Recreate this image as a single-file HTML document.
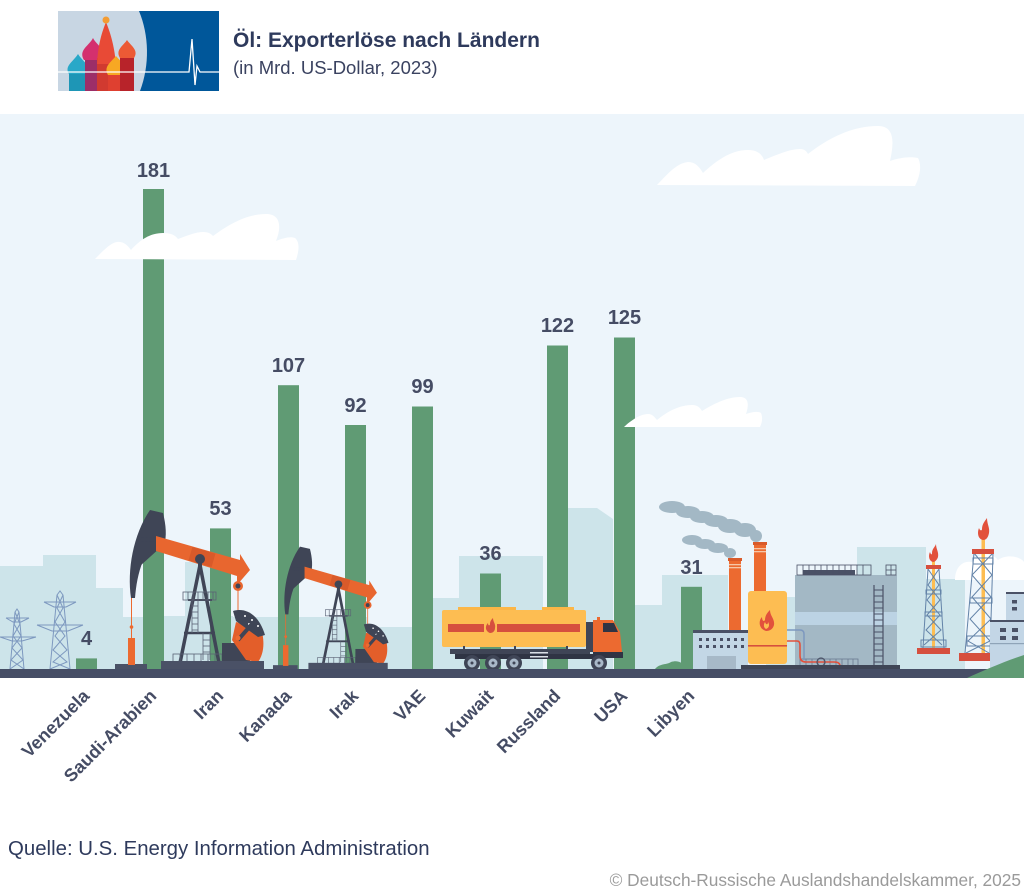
<!DOCTYPE html>
<html><head><meta charset="utf-8"><style>
html,body{margin:0;padding:0;background:#fff;}
svg{display:block;}
text{font-family:"Liberation Sans",Arial,sans-serif;}
</style></head><body>
<svg width="1024" height="893" viewBox="0 0 1024 893" xmlns="http://www.w3.org/2000/svg">
<rect width="1024" height="893" fill="#fff"/>
<!-- Logo -->
<rect x="58" y="11" width="161" height="80" fill="#c8d6e3"/>
<path d="M139,11 C149,35 150,65 140,91 L219,91 L219,11 Z" fill="#00579a"/>
<rect x="69" y="72" width="19" height="19" fill="#1e96b6"/>
<path d="M69,74 C64,66 73,62 78,54 C83,62 92,66 87,74 Z" fill="#29a8c8"/>
<rect x="85" y="58" width="18" height="33" fill="#9c2e68"/>
<path d="M84,60 C78,50 89,46 93,38 C97,46 108,50 102,60 Z" fill="#d4306e"/>
<rect x="97" y="58" width="19" height="33" fill="#d13a30"/>
<path d="M97,64 C98,44 102,32 106,22 C110,32 114,44 116,64 Z" fill="#e84a36"/>
<circle cx="106" cy="20" r="3.5" fill="#f39c33"/>
<rect x="108" y="72" width="16" height="19" fill="#df4030"/>
<path d="M108,75 C103,67 111,62 116,56 C121,62 129,67 124,75 Z" fill="#f7a823"/>
<rect x="120" y="56" width="14" height="35" fill="#b8232a"/>
<path d="M120,58 C115,50 123,46 127,40 C131,46 139,50 134,58 Z" fill="#ec5a35"/>
<polyline points="58,72 186,72 189,72 192,39 195,85 197,66 200,72 219,72" fill="none" stroke="#fff" stroke-width="1.3"/>
<!-- Title -->
<text x="233" y="47" font-size="21" font-weight="bold" fill="#2e3a5c">Öl: Exporterlöse nach Ländern</text>
<text x="233" y="74" font-size="18.5" fill="#3a4260">(in Mrd. US-Dollar, 2023)</text>

<!-- Panel -->
<rect x="0" y="114" width="1024" height="556" fill="#edf5fb"/>
<!-- background buildings -->
<g fill="#cde4ea">
<rect x="0" y="566" width="43" height="104"/>
<rect x="43" y="555" width="53" height="115"/>
<rect x="96" y="588" width="27" height="82"/>
<rect x="123" y="617" width="20" height="53"/>
<rect x="163" y="616" width="70" height="54"/>
<rect x="185" y="562" width="26" height="108"/>
<rect x="231" y="617" width="34" height="53"/>
<rect x="265" y="617" width="80" height="53"/>
<rect x="345" y="617" width="22" height="53"/>
<rect x="367" y="627" width="45" height="43"/>
<rect x="433" y="598" width="26" height="72"/>
<rect x="459" y="556" width="84" height="114"/>
<polygon points="568,508 597,508 613,519 613,670 568,670"/>
<rect x="635" y="605" width="27" height="65"/>
<rect x="662" y="575" width="66" height="95"/>
<rect x="766" y="597" width="34" height="73"/>
<rect x="857" y="547" width="69" height="123"/>
<rect x="926" y="579" width="39" height="91"/>
</g>
<path d="M955,580 C955,568 962,560 972,562 C978,552 992,552 998,560 C1006,554 1020,556 1024,562 L1024,580 Z" fill="#fff"/>

<!-- Bars -->
<g fill="#609b74">
<rect x="76" y="658.4" width="21" height="10.6"/>
<rect x="143" y="189" width="21" height="480"/>
<rect x="210" y="528.4" width="21" height="140.6"/>
<rect x="278" y="385.2" width="21" height="283.8"/>
<rect x="345" y="425" width="21" height="244"/>
<rect x="412" y="406.5" width="21" height="262.5"/>
<rect x="480" y="573.5" width="21" height="95.5"/>
<rect x="547" y="345.5" width="21" height="323.5"/>
<rect x="614" y="337.5" width="21" height="331.5"/>
<rect x="681" y="586.8" width="21" height="82.2"/>
</g>
<!-- Value labels -->
<g font-size="20" font-weight="bold" fill="#454c64" text-anchor="middle">
<text x="86.5" y="645">4</text>
<text x="153.5" y="177">181</text>
<text x="220.5" y="515">53</text>
<text x="288.5" y="372">107</text>
<text x="355.5" y="412">92</text>
<text x="422.5" y="393">99</text>
<text x="490.5" y="560">36</text>
<text x="557.5" y="332">122</text>
<text x="624.5" y="324">125</text>
<text x="691.5" y="574">31</text>
</g>

<!-- Clouds -->
<g fill="#fff">
<path d="M95,259 C102,252 110,243 117,242 C124,241 128,246 131,250 C140,240 150,233 163,233 C171,233 175,235 178,239 C186,236 196,232 203,232 C209,232 211,234 213,236 C228,225 246,214 266,214 C280,214 282,226 276,241 C283,238 291,236 295,238 C300,242 299,251 296,260 Z"/>
<path d="M657,185 C665,177 676,163 688,162 C696,162 700,168 703,173 C715,162 730,150 748,150 C757,150 762,154 764,160 C776,155 790,149 800,149 C805,149 807,152 808,154 C826,140 850,126 878,126 C895,126 894,143 890,161 C898,158 910,156 918,158 C922,165 920,176 915,186 Z"/>
<path d="M624,427 C630,421 640,414 648,414 C653,414 655,418 657,420 C668,411 680,405 692,405 C698,405 700,408 702,411 C712,405 726,397 740,397 C749,397 749,405 746,414 C752,412 758,411 761,413 C763,418 762,423 760,427 Z"/>
</g>

<!-- Smoke -->
<g fill="#a3b8c5">
<ellipse cx="672" cy="507" rx="13" ry="6"/>
<ellipse cx="688" cy="512" rx="12" ry="6"/>
<ellipse cx="702" cy="517" rx="12" ry="6"/>
<ellipse cx="716" cy="521" rx="12" ry="6"/>
<ellipse cx="730" cy="526" rx="12" ry="7"/>
<ellipse cx="745" cy="530" rx="11" ry="7"/>
<ellipse cx="756" cy="536" rx="6" ry="6"/>
<ellipse cx="692" cy="540" rx="10" ry="5"/>
<ellipse cx="705" cy="544" rx="10" ry="5"/>
<ellipse cx="718" cy="548" rx="10" ry="5"/>
<ellipse cx="730" cy="553" rx="6" ry="5"/>
</g>

<!-- Power towers -->
<g fill="none" stroke="#7d98bf" stroke-width="1">
<polyline points="10,669 15,612 17,609 19,612 24,669"/>
<line x1="6" y1="618" x2="29" y2="618"/><line x1="0" y1="637" x2="36" y2="637"/>
<polyline points="6,618 13,622 21,622 29,618"/><polyline points="0,637 12,641 22,641 36,637"/>
<polyline points="15,612 20,624 13,636 22,648 11,660 24,669"/>
<polyline points="19,612 14,624 21,636 12,648 23,660 10,669"/>
<polyline points="50,669 57,595 60,591 63,595 70,669"/>
<line x1="44" y1="602" x2="76" y2="602"/><line x1="37" y1="625" x2="83" y2="625"/>
<polyline points="44,602 54,607 66,607 76,602"/><polyline points="37,625 52,631 68,631 83,625"/>
<polyline points="57,595 63,608 55,622 65,636 53,650 67,662 50,669"/>
<polyline points="63,595 57,608 65,622 55,636 67,650 53,662 70,669"/>
</g>

<!-- Pump jack 1 -->
<g id="pj">
<rect x="115" y="664" width="32" height="5" fill="#4a5166"/>
<line x1="131.5" y1="598" x2="131.5" y2="638" stroke="#ec6a30" stroke-width="1"/>
<circle cx="131.5" cy="627" r="1.8" fill="#ec6a30"/>
<rect x="128" y="638" width="7" height="27" fill="#ec6a30"/>
<g stroke="#3f4556" fill="none">
<line x1="200" y1="565" x2="180" y2="663" stroke-width="3.5"/>
<line x1="200" y1="565" x2="219" y2="663" stroke-width="3.5"/>
<line x1="188" y1="600" x2="212" y2="600" stroke-width="2"/>
<line x1="184" y1="633" x2="215" y2="633" stroke-width="2.5"/>
<g stroke-width="0.8" stroke="#5a6275">
<rect x="183" y="592" width="33" height="8"/>
<line x1="188" y1="592" x2="188" y2="600"/><line x1="193" y1="592" x2="193" y2="600"/><line x1="198" y1="592" x2="198" y2="600"/><line x1="203" y1="592" x2="203" y2="600"/><line x1="208" y1="592" x2="208" y2="600"/><line x1="213" y1="592" x2="213" y2="600"/>
<line x1="192" y1="600" x2="192" y2="633"/><line x1="198" y1="600" x2="198" y2="633"/>
<line x1="192" y1="606" x2="198" y2="606"/><line x1="192" y1="612" x2="198" y2="612"/><line x1="192" y1="618" x2="198" y2="618"/><line x1="192" y1="624" x2="198" y2="624"/><line x1="192" y1="630" x2="198" y2="630"/>
<line x1="203" y1="633" x2="203" y2="660"/><line x1="210" y1="633" x2="210" y2="660"/>
<line x1="203" y1="640" x2="210" y2="640"/><line x1="203" y1="646" x2="210" y2="646"/><line x1="203" y1="652" x2="210" y2="652"/>
<rect x="173" y="654" width="67" height="8"/>
<line x1="180" y1="654" x2="180" y2="662"/><line x1="187" y1="654" x2="187" y2="662"/><line x1="194" y1="654" x2="194" y2="662"/><line x1="201" y1="654" x2="201" y2="662"/><line x1="208" y1="654" x2="208" y2="662"/><line x1="215" y1="654" x2="215" y2="662"/><line x1="222" y1="654" x2="222" y2="662"/><line x1="229" y1="654" x2="229" y2="662"/>
</g>
</g>
<path d="M150,510 L163,513 C166,525 167,536 164,546 L158,548 L143,561 C138,573 136,586 135,598 L131,598 C127,570 133,535 150,510 Z" fill="#3f4556"/>
<line x1="141" y1="539" x2="163" y2="540" stroke="#3f4556" stroke-width="4"/>
<line x1="137" y1="566" x2="158" y2="547" stroke="#3f4556" stroke-width="4"/>
<polygon points="156,536 240,560 240,554 250,570 237,585 237,576 156,551" fill="#e8662f"/>
<rect x="190" y="550" width="24" height="14" fill="#d95a2a" transform="rotate(16 202 557)"/>
<line x1="200" y1="559" x2="200" y2="566" stroke="#3f4556" stroke-width="4"/>
<circle cx="200" cy="559" r="5" fill="#3f4556"/>
<line x1="238" y1="590" x2="238" y2="637" stroke="#ec6a30" stroke-width="1"/>
<circle cx="238" cy="586" r="5" fill="#e8662f"/>
<circle cx="238" cy="586" r="2.5" fill="#3f4556"/>
<rect x="222" y="643" width="28" height="19" fill="#3f4556"/>
<path d="M236,622 L262,632 C265,645 263,655 258,662 L246,660 L232,640 Z" fill="#e35e2a"/>
<path d="M233,611 C246,607 259,615 265,635 L258,637 L236,621 Z" fill="#3f4556"/>
<circle cx="245" cy="616" r="1" fill="#fff"/><circle cx="252" cy="620" r="1" fill="#fff"/><circle cx="258" cy="626" r="1" fill="#fff"/><circle cx="249" cy="624" r="1" fill="#fff"/>
<line x1="238" y1="640" x2="252" y2="624" stroke="#3f4556" stroke-width="4"/>
<circle cx="238" cy="638" r="2.5" fill="#ec6a30"/>
<rect x="161" y="661" width="103" height="8" fill="#4a5166"/>
</g>
<use href="#pj" transform="translate(283,669) scale(0.77) translate(-128,-669)"/>

<!-- Truck -->
<g>
<rect x="458" y="607" width="58" height="4" fill="#fcb647"/>
<rect x="542" y="607" width="32" height="4" fill="#fcb647"/>
<rect x="442" y="610" width="144" height="37" rx="2" fill="#fdbd52"/>
<rect x="448" y="624" width="36" height="8" fill="#d64f3e"/>
<rect x="497" y="624" width="83" height="8" fill="#d64f3e"/>
<path d="M490,633 C485,631 485,626 488,623 C488,626 490,626 490,624 C490,621 492,619 493,618 C493,622 496,624 495,628 C495,631 493,633 490,633 Z" fill="#d64f3e"/>
<rect x="463" y="646" width="2" height="4" fill="#3f4556"/><rect x="514" y="646" width="2" height="4" fill="#3f4556"/><rect x="566" y="646" width="2" height="4" fill="#3f4556"/>
<rect x="450" y="649" width="140" height="5" fill="#3f4556"/>
<rect x="455" y="654" width="140" height="5" fill="#2f3444"/>
<rect x="530" y="652" width="18" height="1.5" fill="#d9dee6"/><rect x="530" y="656" width="18" height="1.5" fill="#d9dee6"/>
<rect x="586" y="622" width="8" height="30" fill="#3f4556"/>
<path d="M593,620 L613,620 L620,632 L622,652 L593,652 Z" fill="#ec6a30"/>
<rect x="597" y="617" width="3" height="4" fill="#ec6a30"/>
<path d="M603,623 L614,623 L618,632 L603,632 Z" fill="#2f3444"/>
<rect x="593" y="652" width="30" height="6" fill="#2f3444"/>
<g fill="#3f4556"><circle cx="472" cy="663" r="8"/><circle cx="493" cy="663" r="8"/><circle cx="514" cy="663" r="8"/><circle cx="599" cy="663" r="8"/></g>
<g fill="#a9b8c8"><circle cx="472" cy="663" r="4.5"/><circle cx="493" cy="663" r="4.5"/><circle cx="514" cy="663" r="4.5"/><circle cx="599" cy="663" r="4.5"/></g>
<g fill="#3f4556"><circle cx="472" cy="663" r="1.5"/><circle cx="493" cy="663" r="1.5"/><circle cx="514" cy="663" r="1.5"/><circle cx="599" cy="663" r="1.5"/></g>
</g>

<path d="M655,669 C660,663 667,665 671,662 C677,660 682,662 684,666 L684,669 Z" fill="#609b74"/>

<!-- Refinery -->
<g>
<rect x="754" y="543" width="12" height="50" fill="#ec6a30"/>
<rect x="753" y="542" width="14" height="3" fill="#d95a2a"/>
<rect x="754" y="548" width="12" height="1.3" fill="#f6c7a8"/><rect x="754" y="551" width="12" height="1.3" fill="#f6c7a8"/>
<rect x="729" y="559" width="12" height="73" fill="#ec6a30"/>
<rect x="728" y="558" width="14" height="3" fill="#d95a2a"/>
<rect x="729" y="564" width="12" height="1.3" fill="#f6c7a8"/><rect x="729" y="567" width="12" height="1.3" fill="#f6c7a8"/>
<rect x="693" y="632" width="55" height="37" fill="#c3d7e6"/>
<rect x="693" y="630" width="55" height="3" fill="#4a5166"/>
<g fill="#4a5166">
<rect x="699" y="638" width="3" height="3"/><rect x="706" y="638" width="3" height="3"/><rect x="713" y="638" width="3" height="3"/><rect x="720" y="638" width="3" height="3"/><rect x="727" y="638" width="3" height="3"/><rect x="734" y="638" width="3" height="3"/><rect x="741" y="638" width="3" height="3"/>
<rect x="699" y="645" width="3" height="3"/><rect x="706" y="645" width="3" height="3"/><rect x="713" y="645" width="3" height="3"/><rect x="720" y="645" width="3" height="3"/><rect x="727" y="645" width="3" height="3"/><rect x="734" y="645" width="3" height="3"/><rect x="741" y="645" width="3" height="3"/>
</g>
<rect x="707" y="656" width="29" height="13" fill="#a7b9c8"/>
<rect x="795" y="575" width="102" height="95" fill="#a3b8c5"/>
<rect x="795" y="612" width="102" height="13" fill="#bcd3e4"/>
<rect x="803" y="570" width="52" height="5" fill="#4a5166"/>
<g fill="none" stroke="#4a5166" stroke-width="0.8">
<rect x="797" y="565" width="74" height="10"/>
<line x1="803" y1="565" x2="803" y2="575"/><line x1="809" y1="565" x2="809" y2="575"/><line x1="815" y1="565" x2="815" y2="575"/><line x1="821" y1="565" x2="821" y2="575"/><line x1="827" y1="565" x2="827" y2="575"/><line x1="833" y1="565" x2="833" y2="575"/><line x1="839" y1="565" x2="839" y2="575"/><line x1="845" y1="565" x2="845" y2="575"/><line x1="851" y1="565" x2="851" y2="575"/><line x1="857" y1="565" x2="857" y2="575"/><line x1="863" y1="565" x2="863" y2="575"/>
<rect x="886" y="565" width="10" height="10"/><line x1="891" y1="565" x2="891" y2="575"/><line x1="886" y1="570" x2="896" y2="570"/>
<line x1="874" y1="585" x2="874" y2="667" stroke-width="1.2"/><line x1="883" y1="585" x2="883" y2="667" stroke-width="1.2"/>
</g>
<g stroke="#4a5166" stroke-width="1">
<line x1="874" y1="590" x2="883" y2="590"/><line x1="874" y1="596" x2="883" y2="596"/><line x1="874" y1="602" x2="883" y2="602"/><line x1="874" y1="608" x2="883" y2="608"/><line x1="874" y1="614" x2="883" y2="614"/><line x1="874" y1="620" x2="883" y2="620"/><line x1="874" y1="626" x2="883" y2="626"/><line x1="874" y1="632" x2="883" y2="632"/><line x1="874" y1="638" x2="883" y2="638"/><line x1="874" y1="644" x2="883" y2="644"/><line x1="874" y1="650" x2="883" y2="650"/><line x1="874" y1="656" x2="883" y2="656"/><line x1="874" y1="662" x2="883" y2="662"/>
</g>
<g fill="none" stroke="#6b7a90" stroke-width="0.8">
<rect x="800" y="659" width="58" height="8"/>
<line x1="806" y1="659" x2="806" y2="667"/><line x1="812" y1="659" x2="812" y2="667"/><line x1="818" y1="659" x2="818" y2="667"/><line x1="824" y1="659" x2="824" y2="667"/><line x1="830" y1="659" x2="830" y2="667"/><line x1="836" y1="659" x2="836" y2="667"/><line x1="842" y1="659" x2="842" y2="667"/><line x1="848" y1="659" x2="848" y2="667"/><line x1="853" y1="659" x2="853" y2="667"/>
</g>
<path d="M787,630 L800,630 Q804,630 804,634 L804,660" fill="none" stroke="#7d98bf" stroke-width="1.5"/>
<path d="M787,641 L797,641 Q800,641 800,645 L800,656 Q800,662 806,662 L834,662 Q840,662 840,666 L840,669" fill="none" stroke="#e2513c" stroke-width="1.6"/>
<circle cx="821" cy="662" r="4" fill="none" stroke="#4a5166" stroke-width="1.2"/>
<rect x="748" y="591" width="39" height="73" rx="3" fill="#fdbd52"/>
<rect x="748" y="645" width="39" height="1.6" fill="#d64f3e"/>
<path d="M766,631 C759,629 758,621 762,617 C762,621 764,622 765,620 C765,615 768,612 770,610 C770,616 775,619 774,625 C773,629 770,631 766,631 Z" fill="#e2513c"/>
<path d="M766,629 C764,628 763,625 765,622 C766,625 768,625 768,622 C770,625 769,628 766,629 Z" fill="#fdbd52"/>
<rect x="741" y="665" width="159" height="5" fill="#3f4556"/>
</g>

<!-- Derricks -->
<g>
<rect x="932" y="553" width="3" height="95" fill="#fdbd52"/>
<g fill="none" stroke="#6383a8" stroke-width="1">
<line x1="923" y1="648" x2="928" y2="569"/><line x1="944" y1="648" x2="939" y2="569"/>
<polyline points="928,569 939,585 927,600 940,615 926,630 942,645"/>
<polyline points="939,569 928,585 940,600 927,615 941,630 924,645"/>
<rect x="926" y="590" width="15" height="4"/><rect x="925" y="612" width="17" height="4"/><rect x="921" y="640" width="25" height="7"/>
</g>
<rect x="926" y="565" width="15" height="4" fill="#d64f3e"/>
<rect x="917" y="648" width="33" height="6" fill="#d64f3e"/>
<path d="M933,562 C929,561 928,556 930,552 C931,555 932,555 932,553 C932,549 935,547 936,544 C936,549 939,552 938,557 C937,560 935,562 933,562 Z" fill="#e2513c"/>
<rect x="981.5" y="531" width="3.5" height="122" fill="#fdbd52"/>
<g fill="none" stroke="#6383a8" stroke-width="1">
<line x1="965" y1="653" x2="974" y2="553"/><line x1="990" y1="653" x2="993" y2="553"/>
<polyline points="974,553 992,575 972,597 991,619 968,641 989,653"/>
<polyline points="993,553 972,575 991,597 970,619 990,641 966,653"/>
<rect x="973" y="558" width="20" height="6"/><rect x="970" y="598" width="22" height="5"/><rect x="967" y="636" width="26" height="10"/>
</g>
<rect x="972" y="549" width="22" height="5" fill="#d64f3e"/>
<rect x="959" y="653" width="32" height="8" fill="#d64f3e"/>
<path d="M983,540 C978,539 977,533 979,528 C980,531 982,531 982,529 C982,524 985,521 987,518 C987,524 990,528 989,533 C988,538 986,540 983,540 Z" fill="#e2513c"/>
</g>

<!-- Right building -->
<rect x="1006" y="593" width="18" height="30" fill="#c3d6e6"/>
<rect x="1006" y="592" width="18" height="2" fill="#4a5166"/>
<rect x="1012" y="600" width="5" height="3.5" fill="#4a5166"/><rect x="1012" y="607" width="5" height="3.5" fill="#4a5166"/>
<rect x="990" y="621" width="34" height="49" fill="#c3d6e6"/>
<rect x="990" y="620" width="34" height="2" fill="#4a5166"/>
<rect x="1000" y="628" width="6" height="4" fill="#4a5166"/><rect x="1012" y="628" width="6" height="4" fill="#4a5166"/>
<rect x="1000" y="636" width="6" height="4" fill="#4a5166"/><rect x="1012" y="636" width="6" height="4" fill="#4a5166"/>
<rect x="990" y="643" width="34" height="1.2" fill="#8fa4b8"/>

<!-- Ground -->
<rect x="0" y="669" width="1024" height="9" fill="#464e66"/>
<path d="M967,678 C985,670 1003,662 1024,655 L1024,678 Z" fill="#609b74"/>

<!-- Category labels -->
<g font-size="18" font-weight="bold" fill="#454c64" text-anchor="end">
<text transform="translate(90.5,697) rotate(-45)">Venezuela</text>
<text transform="translate(157.5,697) rotate(-45)">Saudi-Arabien</text>
<text transform="translate(224.5,697) rotate(-45)">Iran</text>
<text transform="translate(292.5,697) rotate(-45)">Kanada</text>
<text transform="translate(359.5,697) rotate(-45)">Irak</text>
<text transform="translate(426.5,697) rotate(-45)">VAE</text>
<text transform="translate(494.5,697) rotate(-45)">Kuwait</text>
<text transform="translate(561.5,697) rotate(-45)">Russland</text>
<text transform="translate(628.5,697) rotate(-45)">USA</text>
<text transform="translate(695.5,697) rotate(-45)">Libyen</text>
</g>

<!-- Footer -->
<text x="8" y="855" font-size="20.4" fill="#2e3a5c">Quelle: U.S. Energy Information Administration</text>
<text x="1021" y="886" font-size="17.3" fill="#9a9a9a" text-anchor="end">© Deutsch-Russische Auslandshandelskammer, 2025</text>
</svg>
</body></html>
